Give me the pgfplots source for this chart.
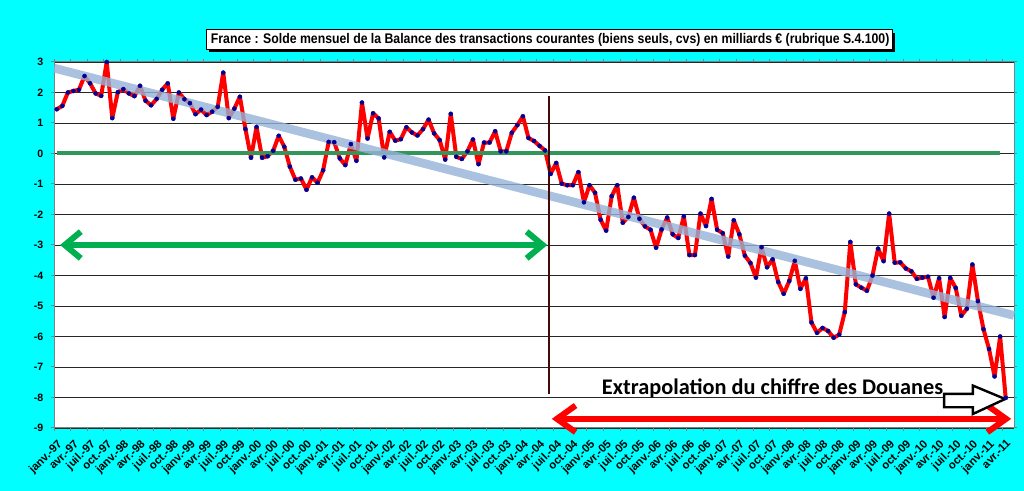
\documentclass[border=0pt]{standalone}
\usepackage{fontspec}
\setmainfont{Liberation Sans}
\newfontfamily\narrowfont[FakeStretch=0.88]{Liberation Sans}
\newfontfamily\calibri{Carlito}
\usepackage{pgfplots}
\pgfplotsset{compat=1.18}
\usetikzlibrary{arrows.meta}
\definecolor{bgcyan}{RGB}{0,255,255}
\definecolor{zgreen}{RGB}{50,150,90}
\definecolor{garrow}{RGB}{0,176,80}
\definecolor{trendblue}{RGB}{149,179,215}
\definecolor{vline}{RGB}{70,8,8}
\definecolor{navydot}{RGB}{0,0,150}
\begin{document}
\begin{tikzpicture}
\fill[bgcyan] (0,0) rectangle (768bp,368.25bp);
\useasboundingbox (0,0) rectangle (768bp,368.25bp);
% title box
\fill[black] (156.5bp,329.4bp) rectangle (671bp,343.8bp);
\filldraw[fill=white,draw=black,line width=0.75bp] (154.5bp,331.3bp) rectangle (669bp,345.75bp);
\node[font=\narrowfont\bfseries\fontsize{10.5}{12}\selectfont, anchor=west, inner sep=0pt] at (158bp,338.5bp) {France :  Solde mensuel de la Balance  des transactions  courantes (biens seuls, cvs) en milliards € (rubrique S.4.100)};
\begin{axis}[
  at={(40.5bp,47.25bp)}, anchor=south west, scale only axis,
  width=720bp, height=274.5bp,
  xmin=-0.5, xmax=172.5, ymin=-9, ymax=3,
  clip=false,
  axis background/.style={fill=white},
  ytick={-9,-8,...,3},
  ymajorgrids,
  grid style={black!85, line width=0.6bp},
  axis line style={gray, line width=0.75bp},
  tick style={gray, line width=0.75bp},
  tick align=outside,
  major tick length=2.5bp,
  /pgf/number format/assume math mode=true,
  yticklabel style={font=\bfseries\fontsize{8}{9}\selectfont, xshift=-2bp},
  xtick={-0.5,2.5,...,172.5},
  xticklabels={},
  extra x ticks={0,3,...,171},
  extra x tick style={major tick length=0pt},
  extra x tick labels={janv.-97,avr.-97,juil.-97,oct.-97,janv.-98,avr.-98,juil.-98,oct.-98,janv.-99,avr.-99,juil.-99,oct.-99,janv.-00,avr.-00,juil.-00,oct.-00,janv.-01,avr.-01,juil.-01,oct.-01,janv.-02,avr.-02,juil.-02,oct.-02,janv.-03,avr.-03,juil.-03,oct.-03,janv.-04,avr.-04,juil.-04,oct.-04,janv.-05,avr.-05,juil.-05,oct.-05,janv.-06,avr.-06,juil.-06,oct.-06,janv.-07,avr.-07,juil.-07,oct.-07,janv.-08,avr.-08,juil.-08,oct.-08,janv.-09,avr.-09,juil.-09,oct.-09,janv.-10,avr.-10,juil.-10,oct.-10,janv.-11,avr.-11},
  xticklabel style={font=\bfseries\fontsize{8.5}{9}\selectfont, xshift=0bp, yshift=-8bp, rotate=45, anchor=north east, inner sep=0pt},
]
\addplot[red, line width=3bp, line join=round, mark=*, mark size=1.6bp, mark options={solid, fill=navydot, draw=navydot, line width=0.2bp}] table {
x y
0 1.45
1 1.56
2 2.00
3 2.05
4 2.09
5 2.54
6 2.30
7 1.97
8 1.89
9 3.00
10 1.16
11 2.01
12 2.11
13 1.97
14 1.88
15 2.22
16 1.73
17 1.58
18 1.79
19 2.09
20 2.30
21 1.14
22 2.00
23 1.78
24 1.65
25 1.29
26 1.44
27 1.26
28 1.37
29 1.53
30 2.65
31 1.16
32 1.47
33 1.86
34 0.80
35 -0.14
36 0.87
37 -0.14
38 -0.09
39 0.09
40 0.58
41 0.22
42 -0.43
43 -0.86
44 -0.82
45 -1.19
46 -0.78
47 -0.96
48 -0.55
49 0.38
50 0.37
51 -0.16
52 -0.38
53 0.31
54 -0.24
55 1.67
56 0.49
57 1.32
58 1.15
59 -0.13
60 0.71
61 0.42
62 0.47
63 0.86
64 0.69
65 0.59
66 0.80
67 1.11
68 0.66
69 0.44
70 -0.20
71 1.30
72 -0.11
73 -0.18
74 0.07
75 0.46
76 -0.35
77 0.36
78 0.36
79 0.73
80 0.07
81 0.07
82 0.68
83 0.93
84 1.22
85 0.51
86 0.41
87 0.25
88 0.10
89 -0.67
90 -0.31
91 -0.99
92 -1.04
93 -1.04
94 -0.61
95 -1.60
96 -1.04
97 -1.29
98 -2.17
99 -2.53
100 -1.40
101 -1.04
102 -2.27
103 -2.08
104 -1.45
105 -2.14
106 -2.39
107 -2.50
108 -3.09
109 -2.49
110 -2.10
111 -2.65
112 -2.77
113 -2.06
114 -3.33
115 -3.33
116 -1.97
117 -2.38
118 -1.49
119 -2.50
120 -2.61
121 -3.38
122 -2.19
123 -2.65
124 -3.35
125 -3.59
126 -4.07
127 -3.07
128 -3.73
129 -3.47
130 -4.21
131 -4.60
132 -4.18
133 -3.52
134 -4.44
135 -4.09
136 -5.54
137 -5.88
138 -5.72
139 -5.82
140 -6.04
141 -5.94
142 -5.20
143 -2.90
144 -4.29
145 -4.40
146 -4.50
147 -4.00
148 -3.12
149 -3.53
150 -1.97
151 -3.58
152 -3.57
153 -3.77
154 -3.86
155 -4.11
156 -4.07
157 -4.04
158 -4.73
159 -4.09
160 -5.36
161 -4.08
162 -4.41
163 -5.32
164 -5.09
165 -3.64
166 -4.84
167 -5.76
168 -6.41
169 -7.31
170 -6.00
171 -8.01
};
\addplot[zgreen, line width=3bp] coordinates {(0,0) (170,0)};
\addplot[trendblue, opacity=0.8, line width=6.5bp] coordinates {(-0.5,2.80) (172.5,-5.31)};
\draw[vline, line width=1.9bp] (axis cs:88.66,1.9) -- (axis cs:88.66,-7.88);
\draw[garrow, line width=4.5bp, {Straight Barb[length=12bp,width=20bp]}-{Straight Barb[length=12bp,width=20bp]}] (axis cs:0.6,-3) -- (axis cs:88.4,-3);
\draw[red, line width=4.5bp, {Straight Barb[length=14bp,width=20bp]}-{Straight Barb[length=14bp,width=20bp]}] (axis cs:89.2,-8.70) -- (axis cs:172,-8.70);
\node[anchor=base west, inner sep=0pt, font=\calibri\bfseries\fontsize{16.8}{18}\selectfont] at (axis cs:98.2,-7.91) {Extrapolation du chiffre des Douanes};
\draw[black, line width=1.8bp, fill=white, line join=miter] (axis cs:159.9,-7.88) -- (axis cs:165.1,-7.88) -- (axis cs:165.1,-7.61) -- (axis cs:170.9,-8.05) -- (axis cs:165.1,-8.54) -- (axis cs:165.1,-8.32) -- (axis cs:159.9,-8.32) -- cycle;
\end{axis}
\end{tikzpicture}
\end{document}
